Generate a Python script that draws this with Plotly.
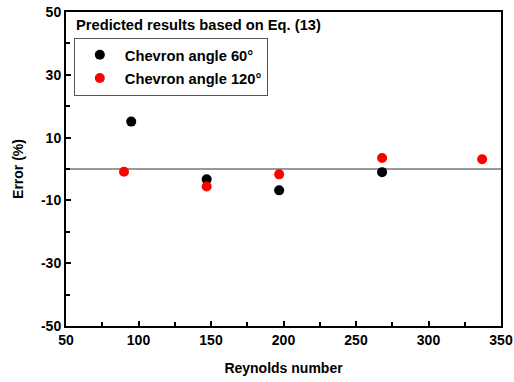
import plotly.graph_objects as go

re_60 = [95, 147, 197, 268]
err_60 = [15.1, -3.3, -6.8, -1.0]
re_120 = [90, 147, 197, 268, 337]
err_120 = [-0.9, -5.6, -1.7, 3.5, 3.1]

x_ticks = [50, 100, 150, 200, 250, 300, 350]
y_ticks = [-50, -30, -10, 10, 30, 50]
y_labels = ["-50", "-30", "-10", "10", "30", "50"]

font = dict(family="Liberation Sans, Arial", color="black")

fig = go.Figure()
fig.add_trace(go.Scatter(x=re_60, y=err_60, mode="markers", name="Chevron angle 60°",
                         marker=dict(color="black", size=10), legendgroup="a"))
fig.add_trace(go.Scatter(x=re_120, y=err_120, mode="markers", name="Chevron angle 120°",
                         marker=dict(color="red", size=10), legendgroup="b"))

fig.add_shape(type="line", xref="paper", x0=0, x1=1, yref="y", y0=0, y1=0,
              line=dict(color="#333", width=1), layer="below")

axis_common = dict(showline=True, linecolor="black", linewidth=2, mirror=True,
                   ticks="inside", ticklen=5, tickwidth=2, tickcolor="black",
                   showgrid=False, zeroline=False, automargin=False,
                   tickfont=dict(size=14, family="Liberation Sans, Arial", color="black", weight="bold"))

fig.update_xaxes(range=[50, 350], tickvals=x_ticks, ticktext=[str(v) for v in x_ticks],
                 minor=dict(ticks="inside", ticklen=4, tickwidth=2, tickcolor="black", dtick=25, tick0=50),
                 title=dict(text="<b>Reynolds number</b>", font=dict(size=14, **font), standoff=16),
                 **axis_common)
fig.update_yaxes(range=[-50, 50], tickvals=y_ticks, ticktext=y_labels,
                 minor=dict(ticks="inside", ticklen=4, tickwidth=2, tickcolor="black", dtick=10, tick0=-50),
                 title=dict(text="<b>Error (%)</b>", font=dict(size=14, **font), standoff=14),
                 **axis_common)

fig.add_annotation(text="<b>Predicted results based on Eq. (13)</b>", xref="paper", yref="paper",
                   x=0.018, y=0.99, xanchor="left", yanchor="top", showarrow=False,
                   font=dict(size=14.7, **font))

fig.update_layout(
    width=514, height=382,
    margin=dict(l=66, r=13, t=12, b=56),
    plot_bgcolor="white", paper_bgcolor="white",
    showlegend=True,
    legend=dict(x=0.018, y=0.918, xanchor="left", yanchor="top",
                bordercolor="#555", borderwidth=1, bgcolor="white",
                font=dict(size=14.7, **font, weight="bold"), tracegroupgap=1,
                itemwidth=40),
)

fig.write_html("out.html")
